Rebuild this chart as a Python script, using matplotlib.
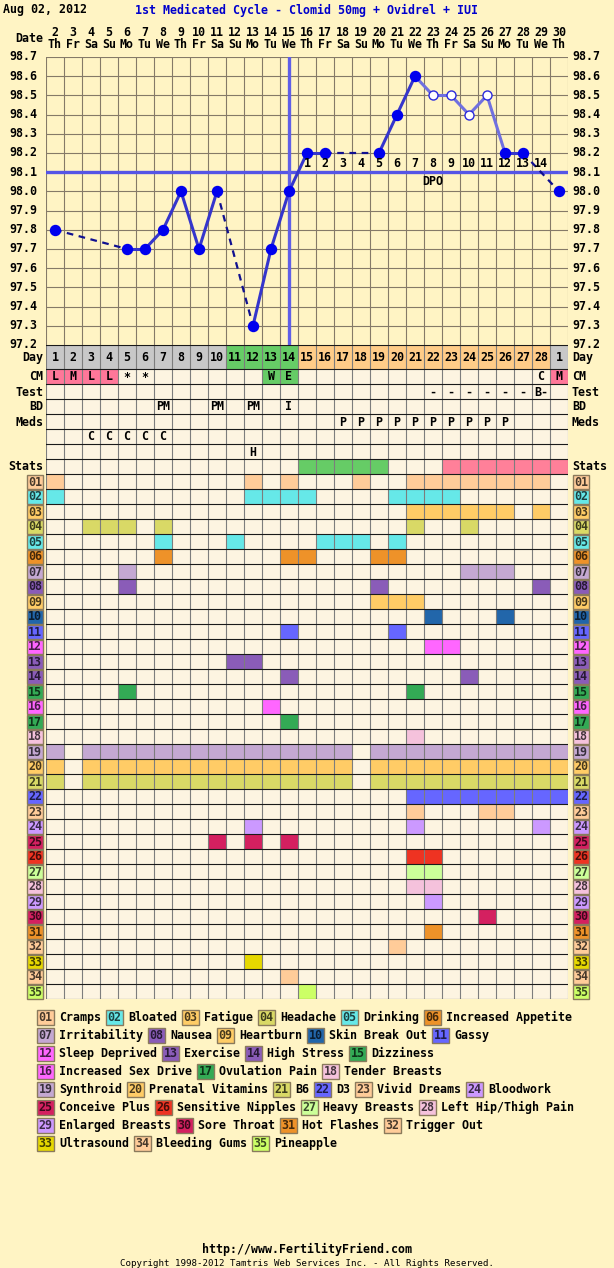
import matplotlib
matplotlib.use("Agg")
import matplotlib.pyplot as plt
from matplotlib.patches import Rectangle
from matplotlib.colors import to_rgb

W, H = 614, 1268
BG = "#fff4c4"
CELL = "#fdf4e1"
FONT = "DejaVu Sans Mono"
FS = 8.4

header_date = "Aug 02, 2012"
cycle_title = "1st Medicated Cycle - Clomid 50mg + Ovidrel + IUI"

dates = [2, 3, 4, 5, 6, 7, 8, 9, 10, 11, 12, 13, 14, 15, 16, 17, 18, 19, 20, 21,
         22, 23, 24, 25, 26, 27, 28, 29, 30]
weekdays = ["Th", "Fr", "Sa", "Su", "Mo", "Tu", "We", "Th", "Fr", "Sa", "Su", "Mo",
            "Tu", "We", "Th", "Fr", "Sa", "Su", "Mo", "Tu", "We", "Th", "Fr", "Sa",
            "Su", "Mo", "Tu", "We", "Th"]
cycle_days = [1, 2, 3, 4, 5, 6, 7, 8, 9, 10, 11, 12, 13, 14, 15, 16, 17, 18, 19, 20,
              21, 22, 23, 24, 25, 26, 27, 28, 1]
day_phase = ["pre"] * 10 + ["fertile"] * 4 + ["post"] * 14 + ["pre"]

temps = [97.8, None, None, None, 97.7, 97.7, 97.8, 98.0, 97.7, 98.0, None, 97.3,
         97.7, 98.0, 98.2, 98.2, None, None, 98.2, 98.4, 98.6, 98.5, 98.5, 98.4,
         98.5, 98.2, 98.2, None, 98.0]
open_points = [21, 22, 23, 24]
temp_ticks = [97.2, 97.3, 97.4, 97.5, 97.6, 97.7, 97.8, 97.9, 98.0, 98.1, 98.2,
              98.3, 98.4, 98.5, 98.6, 98.7]
coverline = 98.1
ovulation_col = 13
dpo_numbers = [1, 2, 3, 4, 5, 6, 7, 8, 9, 10, 11, 12, 13, 14]
dpo_first_col = 14

cm_marks = {0: "L", 1: "M", 2: "L", 3: "L", 4: "*", 5: "*", 12: "W", 13: "E", 27: "C", 28: "M"}
test_marks = {21: "-", 22: "-", 23: "-", 24: "-", 25: "-", 26: "-", 27: "B-"}
bd_marks = {6: "PM", 9: "PM", 11: "PM", 13: "I"}
meds_marks = {16: "P", 17: "P", 18: "P", 19: "P", 20: "P", 21: "P", 22: "P", 23: "P", 24: "P", 25: "P"}
extra_marks1 = {2: "C", 3: "C", 4: "C", 5: "C", 6: "C"}
extra_marks2 = {11: "H"}
stats_green = [14, 15, 16, 17, 18]
stats_pink = [22, 23, 24, 25, 26, 27, 28]

stat_names = ["Cramps", "Bloated", "Fatigue", "Headache", "Drinking", "Increased Appetite",
              "Irritability", "Nausea", "Heartburn", "Skin Break Out", "Gassy",
              "Sleep Deprived", "Exercise", "High Stress", "Dizziness",
              "Increased Sex Drive", "Ovulation Pain", "Tender Breasts", "Synthroid",
              "Prenatal Vitamins", "B6", "D3", "Vivid Dreams", "Bloodwork",
              "Conceive Plus", "Sensitive Nipples", "Heavy Breasts", "Left Hip/Thigh Pain",
              "Enlarged Breasts", "Sore Throat", "Hot Flashes", "Trigger Out",
              "Ultrasound", "Bleeding Gums", "Pineapple"]
stat_colors = ["#ffcc99", "#66e8e8", "#ffcc66", "#d9d966", "#66e8e8", "#ee9229",
               "#c4a8d2", "#8a5cb8", "#ffcc66", "#2266aa", "#6666ff",
               "#ff66ff", "#8a5cb8", "#8a5cb8", "#33aa55",
               "#ff66ff", "#33aa55", "#f5c2dc", "#c4a8d2",
               "#ffcc66", "#d9d966", "#6666ff", "#ffcc99", "#cc99ff",
               "#d42060", "#ee3322", "#ccff99", "#f5c2dc",
               "#cc99ff", "#d42060", "#ee9229", "#ffcc99",
               "#e6d800", "#ffcc99", "#ccff66"]
stat_days = [
    [0, 11, 13, 17, 20, 21, 22, 23, 24, 25, 26, 27],
    [0, 11, 12, 13, 14, 19, 20, 21, 22],
    [20, 21, 22, 23, 24, 25, 27],
    [2, 3, 4, 6, 20, 23],
    [6, 10, 15, 16, 17, 19],
    [6, 13, 14, 18, 19],
    [4, 23, 24, 25],
    [4, 18, 27],
    [18, 19, 20],
    [21, 25],
    [13, 19],
    [21, 22],
    [10, 11],
    [13, 23],
    [4, 20],
    [12],
    [13],
    [20],
    [0, 2, 3, 4, 5, 6, 7, 8, 9, 10, 11, 12, 13, 14, 15, 16, 18, 19, 20, 21, 22, 23, 24, 25, 26, 27, 28],
    [0, 2, 3, 4, 5, 6, 7, 8, 9, 10, 11, 12, 13, 14, 15, 16, 18, 19, 20, 21, 22, 23, 24, 25, 26, 27, 28],
    [0, 2, 3, 4, 5, 6, 7, 8, 9, 10, 11, 12, 13, 14, 15, 16, 18, 19, 20, 21, 22, 23, 24, 25, 26, 27, 28],
    [20, 21, 22, 23, 24, 25, 26, 27, 28],
    [20, 24, 25],
    [11, 20, 27],
    [9, 11, 13],
    [20, 21],
    [20, 21],
    [20, 21],
    [21],
    [24],
    [21],
    [19],
    [11],
    [13],
    [14],
]
legend_rows = [[1, 2, 3, 4, 5, 6], [7, 8, 9, 10, 11], [12, 13, 14, 15], [16, 17, 18],
               [19, 20, 21, 22, 23, 24], [25, 26, 27, 28], [29, 30, 31, 32], [33, 34, 35]]

phase_colors = {"pre": "#c8c8c8", "fertile": "#66cc66", "post": "#ffcc88"}
cm_colors = {"L": "#ff7799", "M": "#ff7799", "W": "#66cc66", "E": "#66cc66"}
row_labels = ["Day", "CM", "Test", "BD", "Meds", "", "", "Stats"]


def dark(c, f=0.3):
    r, g, b = to_rgb(c)
    return (r * f, g * f, b * f)


def px_axes(l, t, r, b, **kw):
    return fig.add_axes([l / W, 1 - b / H, (r - l) / W, (b - t) / H], **kw)


def txt(ax, x, y, s, **kw):
    kw.setdefault("family", FONT)
    kw.setdefault("fontsize", FS)
    kw.setdefault("weight", "bold")
    kw.setdefault("va", "center")
    ax.text(x, y, s, **kw)


fig = plt.figure(figsize=(W / 100, H / 100), dpi=100, facecolor=BG)

# page overlay in pixel coordinates for the surrounding labels
page = px_axes(0, 0, W, H)
page.set_xlim(0, W)
page.set_ylim(H, 0)
page.axis("off")

GL, GR = 46, 568
CW = (GR - GL) / len(dates)
TT, TB = 57, 345

txt(page, 3, 10, header_date, ha="left")
txt(page, 135, 10, cycle_title, ha="left", color="#0000cc")
txt(page, 43, 39, "Date", ha="right")
for i, (d, wd) in enumerate(zip(dates, weekdays)):
    cx = GL + (i + 0.5) * CW
    txt(page, cx, 32, str(d), ha="center")
    txt(page, cx, 45, wd, ha="center")

# temperature chart
ax = px_axes(GL, TT, GR, TB)
ax.set_facecolor(BG)
ax.set_xlim(-0.5, len(dates) - 0.5)
ax.set_ylim(temp_ticks[0], temp_ticks[-1])
for v in temp_ticks:
    ax.axhline(v, color="#857a68", lw=0.8, zorder=1)
for i in range(len(dates) + 1):
    ax.axvline(i - 0.5, color="#857a68", lw=0.8, zorder=1)
ax.set_xticks([])
ax.set_yticks([])
for s in ax.spines.values():
    s.set_visible(False)
for v in temp_ticks:
    ax.annotate(f"{v:.1f}", xy=(0, v), xycoords=ax.get_yaxis_transform(), xytext=(-9, 0),
                textcoords="offset pixels", ha="right", va="center", family=FONT,
                fontsize=FS, weight="bold")
    ax.annotate(f"{v:.1f}", xy=(1, v), xycoords=ax.get_yaxis_transform(), xytext=(4, 0),
                textcoords="offset pixels", ha="left", va="center", family=FONT,
                fontsize=FS, weight="bold")

ax.axhline(coverline, color="#5555e6", lw=2.4, zorder=3)
ax.axvline(ovulation_col, color="#5f5fe8", lw=2.4, zorder=3)

pts = [(i, t) for i, t in enumerate(temps) if t is not None]
for (x0, y0), (x1, y1) in zip(pts[:-1], pts[1:]):
    if x1 - x0 == 1:
        col = "#7070e0" if (x0 in open_points or x1 in open_points) else "#3535cc"
        ax.plot([x0, x1], [y0, y1], color=col, lw=2.2, zorder=4, solid_capstyle="round")
    else:
        ax.plot([x0, x1], [y0, y1], color="#101090", lw=1.6, ls=(0, (3, 2.5)), zorder=4)
for i, t in pts:
    if i in open_points:
        ax.plot(i, t, "o", ms=6.5, mfc="white", mec="#2a2add", mew=1.0, zorder=5)
    else:
        ax.plot(i, t, "o", ms=7.2, mfc="#0000ee", mec="#0000ee", zorder=5)
for k, n in enumerate(dpo_numbers):
    ax.annotate(str(n), xy=(dpo_first_col + k, coverline), xytext=(0, 9),
                textcoords="offset pixels", ha="center", va="center", family=FONT,
                fontsize=FS, weight="bold", zorder=6)
ax.annotate("DPO", xy=(21, coverline), xytext=(0, -9), textcoords="offset pixels",
            ha="center", va="center", family=FONT, fontsize=FS, weight="bold")

# table
row_h = [24] + [15] * (7 + len(stat_names))
row_top = [0]
for h in row_h:
    row_top.append(row_top[-1] + h)
TBOT = TB + row_top[-1]
tb = px_axes(GL, TB, GR, TBOT)
tb.set_xlim(-0.5, len(dates) - 0.5)
tb.set_ylim(row_top[-1], 0)
tb.axis("off")


def cell(r, c, color):
    tb.add_patch(Rectangle((c - 0.5, row_top[r]), 1, row_h[r], facecolor=color,
                           edgecolor="none", zorder=1))


def mid(r):
    return row_top[r] + row_h[r] / 2


for r in range(len(row_h)):
    for c in range(len(dates)):
        cell(r, c, CELL)
for c, ph in enumerate(day_phase):
    cell(0, c, phase_colors[ph])
    txt(tb, c, mid(0) + 0.5, str(cycle_days[c]), ha="center", zorder=4)

marks_rows = [cm_marks, test_marks, bd_marks, meds_marks, extra_marks1, extra_marks2]
for r, marks in enumerate(marks_rows, start=1):
    for c, s in marks.items():
        if r == 1 and s in cm_colors:
            cell(r, c, cm_colors[s])
        txt(tb, c, mid(r) + 0.5, s, ha="center", zorder=4)
for c in stats_green:
    cell(7, c, "#66cc66")
for c in stats_pink:
    cell(7, c, "#ff8099")
for k, days in enumerate(stat_days):
    for c in days:
        cell(8 + k, c, stat_colors[k])

for i in range(len(dates) + 1):
    tb.plot([i - 0.5, i - 0.5], [0, row_top[-1]], color="#7d7d7d", lw=0.8, zorder=2)
for y in row_top:
    tb.plot([-0.5, len(dates) - 0.5], [y, y], color="#1a1a1a", lw=0.8, zorder=3)

for r, lab in enumerate(row_labels):
    if lab:
        y = TB + mid(r) + 0.5
        txt(page, 43, y, lab, ha="right")
        txt(page, 572, y, lab, ha="left")


def badge(x, y, n, w=16, h=14):
    color = stat_colors[n - 1]
    page.add_patch(Rectangle((x, y - h / 2), w, h, facecolor=color, edgecolor="#8a7a5c", lw=1.0))
    txt(page, x + w / 2, y + 0.5, f"{n:02d}", ha="center", color=dark(color, 0.28))


for k in range(len(stat_names)):
    y = TB + mid(8 + k)
    badge(27, y, k + 1)
    badge(573, y, k + 1)

# legend
for j, row in enumerate(legend_rows):
    y = 1017 + 18 * j
    x = 37
    for n in row:
        badge(x, y, n, w=17, h=15)
        txt(page, x + 22, y + 0.5, stat_names[n - 1], ha="left")
        x += 27 + 7 * len(stat_names[n - 1])

txt(page, W / 2, 1249, "http://www.FertilityFriend.com", ha="center")
txt(page, W / 2, 1264, "Copyright 1998-2012 Tamtris Web Services Inc. - All Rights Reserved.",
    ha="center", fontsize=6.6, weight="normal")

fig.savefig("out.png", dpi=100, facecolor=BG)
